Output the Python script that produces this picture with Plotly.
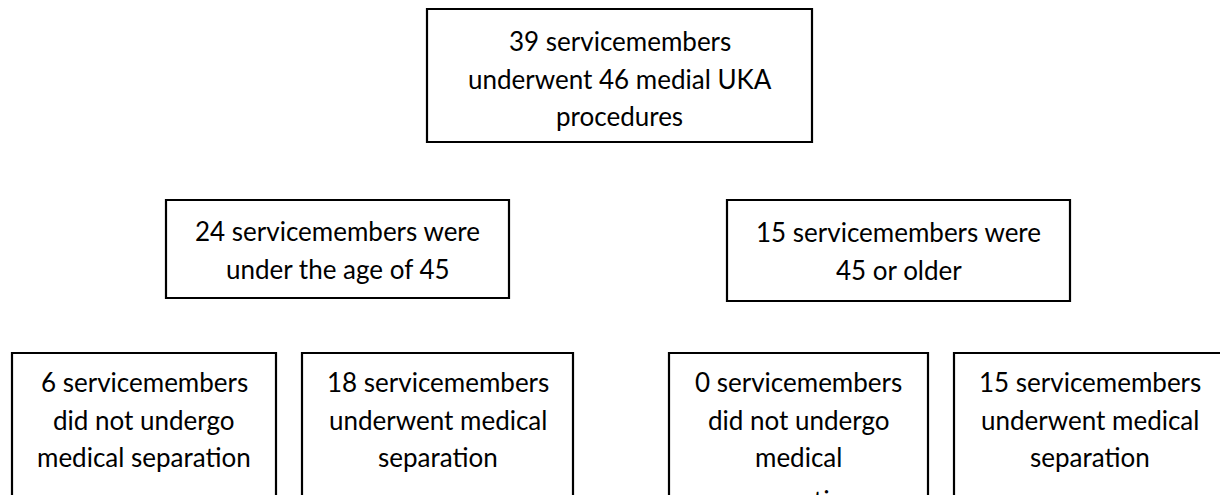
import plotly.graph_objects as go

# ---- data (flowchart counts and labels) ----
node_ids = ["total", "under45", "over45", "u_no_sep", "u_sep", "o_no_sep", "o_sep"]
node_lines = [
    ["39 servicemembers", "underwent 46 medial UKA", "procedures"],
    ["24 servicemembers were", "under the age of 45"],
    ["15 servicemembers were", "45 or older"],
    ["6 servicemembers", "did not undergo", "medical separation"],
    ["18 servicemembers", "underwent medical", "separation"],
    ["0 servicemembers", "did not undergo", "medical", "separation"],
    ["15 servicemembers", "underwent medical", "separation"],
]

# ---- layout geometry (pixel coordinates, y downward) ----
box_x0 = [427, 166, 727, 12, 302, 669, 954]
box_x1 = [812, 509, 1070, 276, 573, 928, 1226]
box_y0 = [9, 200, 200, 353, 353, 353, 353]
box_y1 = [142, 298, 301, 540, 540, 540, 540]
first_line_y = [41, 231, 232, 382, 382, 382, 382]
line_gap = 37.5
overflow_shift = 5  # 4th line of a bottom box runs past the page edge in the source

W, H = 1220, 495
FONT = "Lato, 'Open Sans', sans-serif"
FONT_SIZE = 26

fig = go.Figure()

shapes = []
annotations = []
for i, nid in enumerate(node_ids):
    shapes.append(dict(
        type="rect", xref="x", yref="y",
        x0=box_x0[i], x1=box_x1[i], y0=box_y0[i], y1=box_y1[i],
        line=dict(color="#000000", width=2.2),
        fillcolor="rgba(0,0,0,0)", layer="above",
    ))
    cx = (box_x0[i] + box_x1[i]) / 2
    for j, txt in enumerate(node_lines[i]):
        y = first_line_y[i] + j * line_gap
        if j >= 3:
            y += overflow_shift
        # annotations anchored outside the axis range are hidden, so keep the
        # anchor inside and push the text down with a pixel shift
        y_in = min(y, H - 0.5)
        annotations.append(dict(
            x=cx, y=y_in, yshift=-(y - y_in),
            xref="x", yref="y", text=txt, showarrow=False,
            xanchor="center", yanchor="middle",
            font=dict(family=FONT, size=FONT_SIZE, color="#000000"),
        ))

# invisible trace to anchor axes
fig.add_trace(go.Scatter(x=[0, W], y=[0, H], mode="markers",
                         marker=dict(opacity=0), hoverinfo="skip", showlegend=False))

fig.update_layout(
    width=W, height=H,
    margin=dict(l=0, r=0, t=0, b=0),
    paper_bgcolor="white", plot_bgcolor="white",
    xaxis=dict(range=[0, W], visible=False, fixedrange=True),
    yaxis=dict(range=[H, 0], visible=False, fixedrange=True),
    shapes=shapes, annotations=annotations,
    showlegend=False,
)

fig.write_html("out.html", config={"displayModeBar": False, "staticPlot": True},
               post_script="document.body.style.margin='0';")
